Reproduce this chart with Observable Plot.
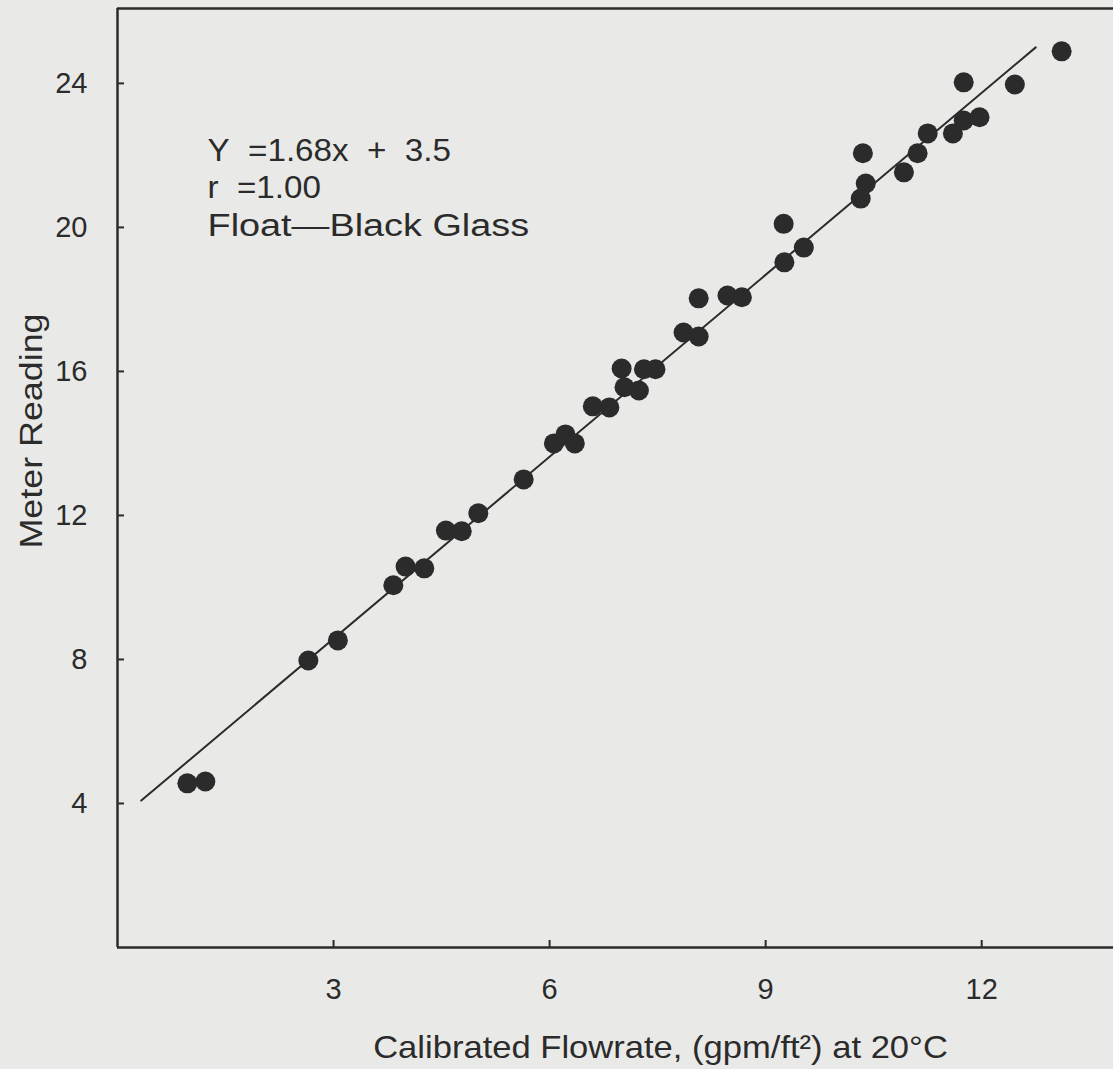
<!DOCTYPE html>
<html>
<head>
<meta charset="utf-8">
<script src="https://cdn.jsdelivr.net/npm/d3@7"></script>
<script src="https://cdn.jsdelivr.net/npm/@observablehq/plot@0.6"></script>
<style>
  html, body { margin: 0; padding: 0; background: #e9e9e7; }
  #chart svg { display: block; }
</style>
</head>
<body>
<div id="chart"></div>
<script>
// Calibrated flowrate (gpm/ft²) at 20°C — x values
const flowrate = [0.97, 1.22, 2.65, 3.06, 3.83, 4.00, 4.26, 4.56, 4.78, 5.01,
  5.64, 6.06, 6.22, 6.35, 6.60, 6.83, 7.00, 7.04, 7.24, 7.31,
  7.47, 7.86, 8.07, 8.07, 8.47, 8.67, 9.25, 9.26, 9.53, 10.32,
  10.39, 10.35, 10.92, 11.11, 11.25, 11.60, 11.75, 11.97, 11.75, 12.46,
  13.11];
// Meter reading — y values
const meterReading = [4.56, 4.61, 7.97, 8.53, 10.06, 10.58, 10.53, 11.58, 11.56, 12.06,
  13.00, 14.00, 14.25, 14.00, 15.03, 15.00, 16.08, 15.56, 15.47, 16.06,
  16.06, 17.08, 16.97, 18.03, 18.11, 18.06, 20.10, 19.03, 19.44, 20.80,
  21.22, 22.06, 21.53, 22.06, 22.61, 22.61, 22.97, 23.06, 24.03, 23.97,
  24.89];
// Fitted line endpoints (Y = 1.68x + 3.5) as drawn
const fitX = [0.33, 12.75];
const fitY = [4.08, 25.0];

const xTicks = [3, 6, 9, 12];
const yTicks = [4, 8, 12, 16, 20, 24];
const xLabel = "Calibrated Flowrate, (gpm/ft²) at 20\u00b0C";
const yLabel = "Meter Reading";
const annotationLines = ["Y\u00a0\u00a0=1.68x\u00a0\u00a0+\u00a0\u00a03.5", "r\u00a0\u00a0=1.00", "Float\u2014Black Glass"];

const points = flowrate.map((x, i) => ({x, y: meterReading[i]}));
const fit = fitX.map((x, i) => ({x, y: fitY[i]}));

const ink = "#2b2b2b";
const W = 1113, H = 1069;
const mL = 117, mR = 0, mT = 8, mB = 122;
const innerW = W - mL - mR, innerH = H - mT - mB;

const chart = Plot.plot({
  width: W,
  height: H,
  marginLeft: mL,
  marginRight: mR,
  marginTop: mT,
  marginBottom: mB,
  style: {
    background: "#e9e9e7",
    color: ink,
    fontFamily: "'Liberation Sans', Arial, Helvetica, sans-serif",
    fontSize: "29px",
    overflow: "visible"
  },
  x: {domain: [0, 13.83], ticks: xTicks, tickSize: 0, tickPadding: 31, label: null},
  y: {domain: [0, 26.08], ticks: yTicks, tickSize: 0, tickPadding: 30, label: null},
  marks: [
    // frame lines
    Plot.ruleX([0], {stroke: ink, strokeWidth: 2.5}),
    Plot.ruleY([0, 26.08], {stroke: ink, strokeWidth: 2.5}),
    // inward ticks
    Plot.ruleX(xTicks, {x: d => d, insetTop: innerH - 7, stroke: ink, strokeWidth: 2}),
    Plot.ruleY(yTicks, {y: d => d, insetRight: innerW - 7, stroke: ink, strokeWidth: 2}),
    // fitted line
    Plot.line(fit, {x: "x", y: "y", stroke: ink, strokeWidth: 2}),
    // observations
    Plot.dot(points, {x: "x", y: "y", r: 10, fill: ink, stroke: "none"}),
    // annotation
    Plot.text([annotationLines.join("\n")], {
      x: 1.25, y: 22.6, text: d => d,
      textAnchor: "start", lineAnchor: "top", lineHeight: 1.22,
      fontSize: 31, fill: ink
    }),
    // axis titles
    Plot.text([xLabel], {
      frameAnchor: "bottom", text: d => d, dx: 45, dy: 110,
      textAnchor: "middle", fontSize: 32, fill: ink
    }),
    Plot.text([yLabel], {
      frameAnchor: "left", text: d => d, rotate: -90, dx: -86, dy: -47,
      textAnchor: "middle", lineAnchor: "middle", fontSize: 32, fill: ink
    })
  ]
});

document.getElementById("chart").appendChild(chart);

// widen glyphs to match the broader typeface of the original
function stretch(el, factor) {
  const w = el.getComputedTextLength();
  el.setAttribute("textLength", (w * factor).toFixed(1));
  el.setAttribute("lengthAdjust", "spacingAndGlyphs");
}
chart.querySelectorAll("text").forEach(t => {
  const spans = t.querySelectorAll("tspan");
  if (spans.length === 3) {
    stretch(spans[0], 1.07);
    stretch(spans[1], 1.07);
    stretch(spans[2], 1.22);
  } else if (t.textContent === xLabel) {
    stretch(t, 1.08);
  } else if (t.textContent === yLabel) {
    stretch(t, 1.12);
  }
});
</script>
</body>
</html>
